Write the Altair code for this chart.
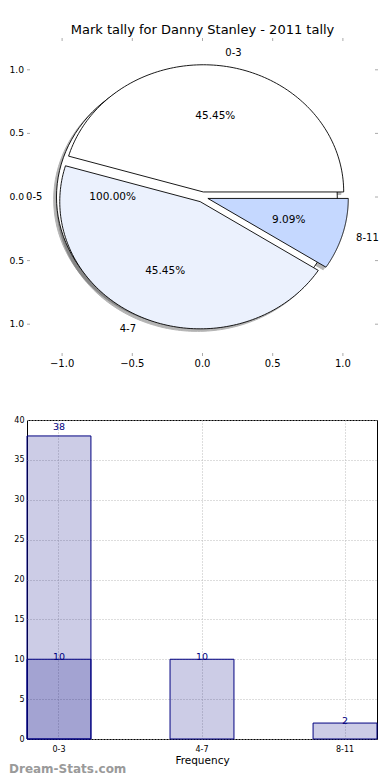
import altair as alt
import pandas as pd
import numpy as np

# ---------------- data ----------------
chart_title = "Mark tally for Danny Stanley - 2011 tally"

pie_labels = ["0-3", "4-7", "8-11"]
pie_values = [10, 10, 2]
pie_colors = ["#ffffff", "#ebf1fd", "#c5d8ff"]

outer_labels = ["0-5"]
outer_values = [22]
outer_colors = ["#ffffff"]

pie_ticks = [-1.0, -0.5, 0.0, 0.5, 1.0]

bar_categories = ["0-3", "4-7", "8-11"]
bar_front_values = [10, 10, 2]
bar_back_categories = ["0-3"]
bar_back_values = [38]
bar_ticks = [0, 5, 10, 15, 20, 25, 30, 35, 40]
bar_xlabel = "Frequency"
watermark = "Dream-Stats.com"

# ---------------- style ----------------
EXPLODE = 0.04
N_ARC = 120
FONT = "DejaVu Sans"
NAVY = "#000080"
PW, PH = 351, 318
TICK = "#aaaaaa"


def slice_frame(group, labels, values, colors):
    vals = np.array(values, dtype=float)
    total = vals.sum()
    starts = np.concatenate([[0.0], np.cumsum(vals)[:-1]]) / total
    return pd.DataFrame({"group": group, "label": labels, "value": values,
                         "color": colors, "start": starts, "frac": vals / total})


slices = pd.concat([slice_frame("outer", outer_labels, outer_values, outer_colors),
                    slice_frame("inner", pie_labels, pie_values, pie_colors)],
                   ignore_index=True)
outline = slices.merge(pd.DataFrame({"k": np.arange(N_ARC + 3)}), how="cross")
ticks_df = pd.DataFrame({"v": pie_ticks})

xs = alt.Scale(domain=[-1.25, 1.25], nice=False, zero=False)
ys = alt.Scale(domain=[-1.25, 1.25], nice=False, zero=False)

base = alt.Chart(outline).transform_calculate(t=f"clamp((datum.k - 1) / {N_ARC}, 0, 1)") \
    .transform_calculate(ang="2 * PI * (datum.start + datum.frac * datum.t)",
                         mid="2 * PI * (datum.start + datum.frac / 2)") \
    .transform_calculate(isv=f"(datum.k == 0 || datum.k == {N_ARC + 2}) && datum.frac < 1") \
    .transform_calculate(px=f"{EXPLODE} * cos(datum.mid) + (datum.isv ? 0 : cos(datum.ang))",
                         py=f"{EXPLODE} * sin(datum.mid) + (datum.isv ? 0 : sin(datum.ang))") \
    .transform_calculate(sx="datum.px - 0.02", sy="datum.py - 0.02")

shadow = base.mark_line(fill="#4d4d4d", stroke="#4d4d4d", opacity=0.42, strokeWidth=1).encode(
    x=alt.X("sx:Q", scale=xs, axis=None),
    y=alt.Y("sy:Q", scale=ys, axis=None),
    order="k:Q",
    detail="label:N",
)

outer_wedge = base.transform_filter("datum.group == 'outer'").mark_line(stroke="black", strokeWidth=0.9).encode(
    x=alt.X("px:Q", scale=xs, axis=None),
    y=alt.Y("py:Q", scale=ys, axis=None),
    order="k:Q",
    detail="label:N",
    fill=alt.Fill("color:N", scale=None),
)

inner_wedges = base.transform_filter("datum.group == 'inner'").mark_line(stroke="black", strokeWidth=0.9).encode(
    x=alt.X("px:Q", scale=xs, axis=None),
    y=alt.Y("py:Q", scale=ys, axis=None),
    order="k:Q",
    detail="label:N",
    fill=alt.Fill("color:N", scale=None),
)

# small inward tick marks on all four sides, and tick labels (bottom, left)
tk = alt.Chart(ticks_df).mark_rule(color=TICK, strokeWidth=1)
tick_top = tk.encode(x=alt.X("v:Q", scale=xs, axis=None), y=alt.value(0), y2=alt.value(3))
tick_bottom = tk.encode(x=alt.X("v:Q", scale=xs, axis=None), y=alt.value(PH), y2=alt.value(PH - 3))
tick_left = tk.encode(y=alt.Y("v:Q", scale=ys, axis=None), x=alt.value(0), x2=alt.value(3))
tick_right = tk.encode(y=alt.Y("v:Q", scale=ys, axis=None), x=alt.value(PW), x2=alt.value(PW - 3))

tl = alt.Chart(ticks_df).transform_calculate(
    xl="format(datum.v, '.1f')", yl="format(abs(datum.v), '.1f')")
xlabels = tl.mark_text(align="center", baseline="middle", font=FONT, fontSize=10, color="black").encode(
    x=alt.X("v:Q", scale=xs, axis=None), y=alt.value(PH + 8), text="xl:N")
ylabels = tl.mark_text(align="right", baseline="middle", font=FONT, fontSize=9.2, color="black").encode(
    y=alt.Y("v:Q", scale=ys, axis=None), x=alt.value(-3), text="yl:N")

txt = alt.Chart(slices).transform_calculate(mid="2 * PI * (datum.start + datum.frac / 2)") \
    .transform_calculate(ox=f"{EXPLODE} * cos(datum.mid)", oy=f"{EXPLODE} * sin(datum.mid)") \
    .transform_calculate(lx="datum.ox + 1.1 * cos(datum.mid)", ly="datum.oy + 1.1 * sin(datum.mid)",
                         tx="datum.ox + 0.6 * cos(datum.mid)", ty="datum.oy + 0.6 * sin(datum.mid)",
                         pct="format(datum.frac * 100, '.2f') + '%'")

lab_left = txt.transform_filter("datum.lx >= 0").mark_text(
    align="left", baseline="middle", font=FONT, fontSize=10, color="black").encode(
    x=alt.X("lx:Q", scale=xs, axis=None), y=alt.Y("ly:Q", scale=ys, axis=None), text="label:N")
lab_right = txt.transform_filter("datum.lx < 0").mark_text(
    align="right", baseline="middle", font=FONT, fontSize=10, color="black").encode(
    x=alt.X("lx:Q", scale=xs, axis=None), y=alt.Y("ly:Q", scale=ys, axis=None), text="label:N")
pct_text = txt.mark_text(align="center", baseline="middle", font=FONT, fontSize=10.5, color="black").encode(
    x=alt.X("tx:Q", scale=xs, axis=None), y=alt.Y("ty:Q", scale=ys, axis=None), text="pct:N")

title_mark = alt.Chart(pd.DataFrame({"title": [chart_title]})).mark_text(
    align="center", baseline="alphabetic", font=FONT, fontSize=13, color="black").encode(
    x=alt.value(PW / 2), y=alt.value(-4), text="title:N")

pie = alt.layer(shadow, outer_wedge, inner_wedges, tick_top, tick_bottom, tick_left, tick_right,
                xlabels, ylabels, lab_left, lab_right, pct_text, title_mark).properties(width=PW, height=PH)

# ---------------- bar chart ----------------
front = pd.DataFrame({"cat": bar_categories, "val": bar_front_values})
back = pd.DataFrame({"cat": bar_back_categories, "val": bar_back_values})

bx = alt.Scale(domain=bar_categories, paddingInner=0.553, paddingOuter=0)
by = alt.Scale(domain=[0, 40], nice=False)

x_axis = alt.Axis(title=bar_xlabel, labelAngle=0, labelFont=FONT, labelFontSize=8, labelColor="black",
                  titleFont=FONT, titleFontSize=10.5, titleFontWeight="normal", titleColor="black",
                  titleBaseline="middle", titleY=21, labelPadding=6, ticks=False, domain=False,
                  grid=True, gridColor="#bbbbbb", gridDash=[1, 2], bandPosition=0.5)
y_axis = alt.Axis(title=None, values=bar_ticks, labelFont=FONT, labelFontSize=8, labelColor="black",
                  labelPadding=3, ticks=False, domain=False, labelOverlap=False,
                  grid=True, gridColor="#bbbbbb", gridDash=[1, 2])

X = alt.X("cat:N", scale=bx, axis=x_axis, title=bar_xlabel)
Y = alt.Y("val:Q", scale=by, axis=y_axis, title=None)

bars_back = alt.Chart(back).mark_bar(fill=NAVY, fillOpacity=0.2, stroke=NAVY, strokeWidth=1).encode(x=X, y=Y)
bars_front = alt.Chart(front).mark_bar(fill=NAVY, fillOpacity=0.2, stroke=NAVY, strokeWidth=1).encode(x=X, y=Y)
text_back = alt.Chart(back).mark_text(baseline="bottom", dy=-4, font=FONT, fontSize=9.5, color=NAVY).encode(
    x=X, y=Y, text="val:Q")
text_front = alt.Chart(front).mark_text(baseline="middle", dy=-2, font=FONT, fontSize=9.5, color=NAVY).encode(
    x=X, y=Y, text="val:Q")
wm = alt.Chart(pd.DataFrame({"w": [watermark]})).mark_text(
    align="left", baseline="middle", font=FONT, fontSize=12, fontWeight="bold", color="#9a9a9a").encode(
    x=alt.value(-18), y=alt.value(349), text="w:N")

bar = alt.layer(bars_back, bars_front, text_back, text_front, wm).properties(
    width=350, height=319, view=alt.ViewBackground(stroke="black", strokeWidth=1))

chart = alt.vconcat(pie, bar, spacing=46).properties(
    padding={"left": 0, "top": 16, "right": 0, "bottom": 0}
).configure_view(stroke=None)

chart.save("out.html", embed_options={"renderer": "svg", "actions": False})
